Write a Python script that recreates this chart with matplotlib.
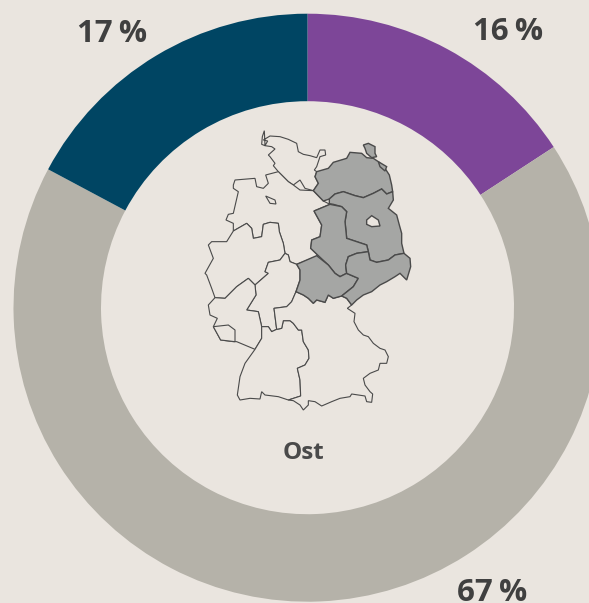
import matplotlib

matplotlib.use("Agg")
import matplotlib.pyplot as plt
from matplotlib.patches import Polygon

shares = [15.8, 67.0, 17.2]
share_colors = ["#7D4698", "#B5B2A9", "#004563"]
share_labels = ["16\u2009%", "67\u2009%", "17\u2009%"]
center_label = "Ost"

BG = "#EAE5DF"
TEXT = "#404040"
MAP_GRAY = "#A5A6A4"
MAP_LINE = "#4A4A4A"

# Map outlines on a 3x grid. Shared borders first.
bw_bavaria = [(230, 613), (245, 610), (250, 587), (270, 587), (280, 595), (295, 615), (305, 615), (310, 650),
              (325, 675), (327, 700), (315, 720), (292, 730), (300, 765), (302, 813), (265, 825)]
thuringia_bavaria = [(288, 500), (310, 510), (325, 520), (340, 535), (350, 525), (375, 532), (385, 510), (400, 520),
                     (425, 513)]
hesse_bavaria = [(230, 613), (222, 550), (260, 545), (275, 530)]

schleswig_holstein = [(193, 17), (187, 35), (185, 58), (195, 62), (203, 48), (190, 45), (210, 33), (240, 35),
                      (265, 43), (290, 55), (295, 80), (310, 88), (330, 92), (350, 98), (360, 75), (375, 75),
                      (377, 90), (360, 95), (350, 125), (343, 135), (350, 140), (345, 155), (355, 175), (340, 197),
                      (315, 190), (300, 165), (280, 180), (265, 170), (235, 140), (220, 122), (225, 115), (210, 95),
                      (205, 90), (225, 72), (215, 65), (195, 62)]
lower_saxony = [(100, 180), (105, 165), (165, 160), (170, 185), (190, 190), (205, 175), (197, 150), (235, 140),
                (265, 170), (280, 180), (300, 195), (340, 197), (370, 228), (390, 238), (342, 258), (365, 300),
                (360, 335), (335, 345), (332, 370), (355, 392), (290, 418), (270, 410), (265, 390), (255, 385),
                (250, 355), (238, 320), (235, 295), (210, 292), (190, 298), (185, 335), (160, 340), (155, 310),
                (140, 295), (100, 318), (100, 295), (78, 285), (85, 268), (100, 265), (115, 200), (100, 190)]
bremen = [(197, 213), (225, 225), (228, 237), (210, 235)]
nrw = [(100, 318), (140, 295), (155, 310), (160, 340), (185, 335), (190, 298), (210, 292), (235, 295), (238, 320),
       (250, 355), (255, 385), (240, 405), (205, 412), (195, 440), (205, 445), (165, 480), (145, 460), (110, 485),
       (75, 520), (45, 518), (35, 490), (20, 450), (15, 445), (40, 400), (25, 360), (35, 350), (80, 350)]
hesse = [(205, 412), (240, 405), (255, 385), (265, 390), (270, 410), (290, 418), (300, 435), (300, 465),
         (288, 500)] + hesse_bavaria[::-1] + [(215, 620), (205, 605), (185, 605), (175, 560), (140, 555), (168, 510),
                                              (165, 480), (205, 445), (195, 440)]
rhineland_palatinate = [(75, 520), (45, 518), (25, 540), (30, 570), (52, 580), (40, 605), (62, 645), (100, 650),
                        (110, 650), (165, 673), (185, 640), (185, 605), (175, 560), (140, 555), (168, 510), (165, 480),
                        (145, 460), (110, 485)]
saarland = [(40, 605), (85, 600), (105, 615), (105, 650), (62, 645)]
baden_wuerttemberg = [(185, 605), (205, 605), (215, 620)] + bw_bavaria + [(235, 815), (195, 810), (185, 800),
                                                                         (180, 822), (150, 820), (120, 825), (112, 810),
                                                                         (120, 755), (135, 715), (165, 673), (185, 640)]
bavaria = hesse_bavaria + thuringia_bavaria + [(440, 520), (455, 540), (442, 550), (465, 565), (462, 590), (475, 615),
                                               (490, 630), (505, 635), (520, 655), (540, 670), (555, 675), (565, 695),
                                               (560, 715), (540, 715), (535, 735), (510, 745), (490, 760), (495, 780),
                                               (510, 800), (518, 807), (515, 832), (500, 830), (495, 813), (455, 807),
                                               (450, 815), (420, 820), (395, 830), (365, 843), (345, 830), (325, 827),
                                               (325, 840), (310, 855), (300, 840), (280, 827)] + bw_bavaria[::-1]
mecklenburg = [(340, 197), (355, 175), (345, 155), (350, 140), (385, 130), (400, 112), (440, 100), (450, 82), (485, 85),
               (500, 98), (520, 100), (535, 110), (555, 130), (568, 150), (575, 180), (578, 200), (560, 207),
               (545, 192), (520, 205), (490, 218), (465, 212), (430, 200), (405, 207), (388, 222), (370, 228)]
ruegen = [(490, 60), (505, 55), (525, 65), (525, 85), (530, 95), (515, 98), (500, 85), (495, 70)]
usedom = [(535, 110), (560, 125), (555, 138), (540, 125)]
brandenburg = [(388, 236), (388, 222), (405, 207), (430, 200), (465, 212), (490, 218), (520, 205), (545, 192),
               (560, 207), (578, 200), (580, 225), (565, 250), (590, 270), (598, 300), (605, 325), (605, 355),
               (612, 385), (585, 390), (565, 405), (530, 412), (510, 405), (505, 380), (500, 360), (470, 350),
               (440, 340), (435, 290), (440, 260), (425, 245), (400, 238)]
berlin = [(500, 285), (515, 272), (535, 285), (540, 303), (515, 305), (500, 298)]
saxony_anhalt = [(342, 258), (390, 238), (425, 245), (440, 260), (435, 290), (440, 340), (470, 350), (500, 360),
                 (505, 380), (470, 385), (445, 395), (437, 420), (440, 445), (420, 455), (405, 445), (385, 420),
                 (355, 392), (332, 370), (335, 345), (360, 335), (365, 300)]
thuringia = [(290, 418), (350, 392), (385, 420), (405, 445), (420, 455), (440, 445), (475, 460), (460, 485)] \
    + thuringia_bavaria[::-1] + [(300, 465), (300, 435)]
saxony = [(437, 420), (445, 395), (470, 385), (505, 380), (510, 405), (530, 412), (565, 405), (585, 390), (612, 385),
          (630, 400), (632, 425), (620, 465), (600, 445), (585, 455), (560, 470), (540, 480), (515, 500), (490, 510),
          (470, 525), (455, 540), (440, 520), (425, 513), (460, 485), (475, 460), (440, 445)]

west_states = [schleswig_holstein, lower_saxony, bremen, nrw, hesse, rhineland_palatinate, saarland,
               baden_wuerttemberg, bavaria]
east_states = [mecklenburg, ruegen, usedom, brandenburg, saxony_anhalt, thuringia, saxony]


def to_pixels(outline):
    """Turn traced 3x grid points into figure pixels, y pointing up."""
    return [(200 + x / 3, 603 - (125 + y / 3)) for x, y in outline]


plt.rcParams["font.family"] = ["Open Sans", "DejaVu Sans"]

fig = plt.figure(figsize=(5.89, 6.03), dpi=100, facecolor=BG)
ax = fig.add_axes([0, 0, 1, 1])

ax.pie(shares, colors=share_colors, startangle=90, counterclock=False, center=(307.5, 295.3), radius=294,
       wedgeprops={"width": 87.5, "linewidth": 0})

for state in west_states:
    ax.add_patch(Polygon(to_pixels(state), closed=True, facecolor=BG, edgecolor=MAP_LINE, linewidth=0.8))
for state in east_states:
    ax.add_patch(Polygon(to_pixels(state), closed=True, facecolor=MAP_GRAY, edgecolor=MAP_LINE, linewidth=1.0))
ax.add_patch(Polygon(to_pixels(berlin), closed=True, facecolor=BG, edgecolor=MAP_LINE, linewidth=1.0))

ax.text(508, 563.5, share_labels[0], ha="center", va="baseline", fontsize=22.5, fontweight="bold", color=TEXT)
ax.text(492, 2, share_labels[1], ha="center", va="baseline", fontsize=22.5, fontweight="bold", color=TEXT)
ax.text(112.5, 560.5, share_labels[2], ha="center", va="baseline", fontsize=22.5, fontweight="bold", color=TEXT)
ax.text(303.5, 144, center_label, ha="center", va="baseline", fontsize=17.5, fontweight="bold", color="#4A4A4A")

ax.set_xlim(0, 589)
ax.set_ylim(0, 603)
ax.axis("off")

fig.savefig("out.png", dpi=100, facecolor=BG)
plt.close(fig)
